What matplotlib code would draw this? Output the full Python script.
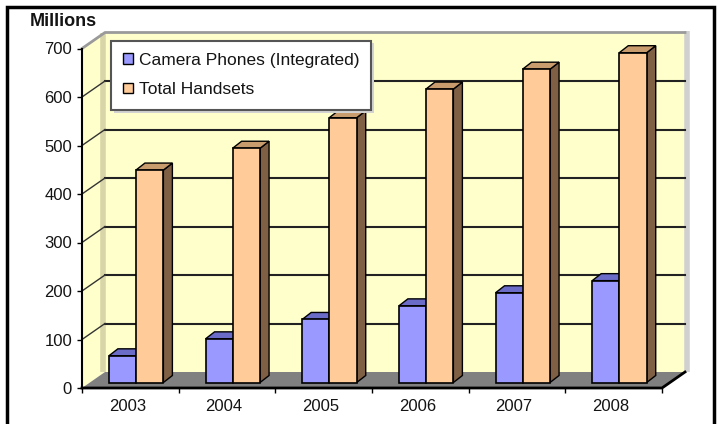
import matplotlib.pyplot as plt
from matplotlib.patches import Polygon, Patch, Rectangle

years = ['2003', '2004', '2005', '2006', '2007', '2008']
camera_phones = [55, 90, 130, 158, 185, 210]
total_handsets = [438, 483, 546, 605, 646, 680]
series_names = ['Camera Phones (Integrated)', 'Total Handsets']
y_ticks = [0, 100, 200, 300, 400, 500, 600, 700]

plt.rcParams['font.family'] = ['Liberation Sans', 'DejaVu Sans']
TXT = '#141414'

W, H = 718, 424
fig = plt.figure(figsize=(W / 100, H / 100), dpi=100)
# front plane of the 3d box, in pixels: x 82..662, y 388..48.5
ax = fig.add_axes([82 / W, (H - 388) / H, 580 / W, 339.5 / H])
n = len(years)
ymax = y_ticks[-1]
ax.set_xlim(0, n)
ax.set_ylim(0, ymax)

# depth of the box and of the bars, in data units
px_x = n / 580
px_y = ymax / 339.5
dx, dy = 23 * px_x, 16 * px_y
bdx, bdy = 9 * px_x, 7 * px_y
base = 5.5 * px_y


def poly(pts, fc, ec='none', lw=0, z=1):
    ax.add_patch(Polygon(pts, closed=True, facecolor=fc, edgecolor=ec,
                         linewidth=lw, zorder=z, clip_on=False,
                         joinstyle='miter'))


# walls
wall = '#FFFFCC'
poly([(dx, dy), (n + dx, dy), (n + dx, ymax + dy), (dx, ymax + dy)], wall, z=1)
poly([(0, 0), (dx, dy), (dx, ymax + dy), (0, ymax)], wall, z=1)
ax.plot([dx - 2 * px_x] * 2, [dy, ymax + dy], color='#D8D5A8', lw=4,
        zorder=1.5, clip_on=False, solid_capstyle='butt')
ax.plot([n + dx + 2.5 * px_x] * 2, [dy, ymax + dy + 2 * px_y], color='#D0D0D0',
        lw=4, zorder=1.5, clip_on=False, solid_capstyle='butt')
ax.plot([0, dx, n + dx], [ymax, ymax + dy, ymax + dy], color='#9A9A9A', lw=2,
        zorder=2, clip_on=False)

# gridlines
for v in y_ticks[1:-1]:
    ax.plot([dx, n + dx], [v + dy, v + dy], color='#222222', lw=1.5, zorder=2,
            clip_on=False)
    ax.plot([0, dx], [v, v + dy], color='#333333', lw=1, zorder=2, clip_on=False)

# floor
poly([(0, 0), (n, 0), (n + dx, dy), (dx, dy)], '#808080', z=3)
ax.plot([0, n, n + dx], [0, 0, dy], color='black', lw=2, zorder=3.5,
        clip_on=False)

# bars
cam_fc, cam_top = '#9999FF', '#6B6BC8'
tot_fc, tot_top, tot_side = '#FFCC99', '#C99C6E', '#7F6045'
offs = [0.278, 0.558, 0.842]
z = 4
for i in range(n):
    x0, x1, x2 = i + offs[0], i + offs[1], i + offs[2]
    t1 = base + camera_phones[i]
    t2 = base + total_handsets[i]
    poly([(x0, t1), (x0 + bdx, t1 + bdy), (x1 + bdx, t1 + bdy), (x1, t1)],
         cam_top, 'black', 1, z)
    poly([(x1, base), (x1 + bdx, base + bdy), (x1 + bdx, t1 + bdy), (x1, t1)],
         '#5050A0', 'black', 1, z)
    poly([(x0, base), (x1, base), (x1, t1), (x0, t1)], cam_fc, 'black', 1.2, z + 0.1)
    poly([(x2, base), (x2 + bdx, base + bdy), (x2 + bdx, t2 + bdy), (x2, t2)],
         tot_side, 'black', 1, z + 0.2)
    poly([(x1, t2), (x1 + bdx, t2 + bdy), (x2 + bdx, t2 + bdy), (x2, t2)],
         tot_top, 'black', 1, z + 0.2)
    poly([(x1, base), (x2, base), (x2, t2), (x1, t2)], tot_fc, 'black', 1.2, z + 0.3)

# axes and ticks
for s in ['top', 'right', 'bottom']:
    ax.spines[s].set_visible(False)
ax.spines['left'].set_color('black')
ax.spines['left'].set_linewidth(1.5)
ax.spines['left'].set_zorder(6)
ax.set_yticks(y_ticks)
ax.set_yticklabels([str(v) for v in y_ticks])
ax.tick_params(axis='y', length=3.6, width=1, color='black', pad=3.6,
               labelsize=12, labelcolor=TXT)
ax.set_xticks([i + 0.47 for i in range(n)])
ax.set_xticklabels(years)
ax.set_xticks(range(n + 1), minor=True)
ax.tick_params(axis='x', which='major', length=0, pad=8, labelsize=12,
               labelcolor=TXT)
ax.tick_params(axis='x', which='minor', length=3.6, width=1, color='black')
ax.patch.set_visible(False)

# legend with a light drop shadow
fig.patches.append(Rectangle((114 / W, 1 - 113 / H), 260 / W, 70 / H,
                             transform=fig.transFigure, facecolor='#D2D2D2',
                             edgecolor='none', zorder=9))
handles = [Patch(facecolor=cam_fc, edgecolor='black', lw=1),
           Patch(facecolor=tot_fc, edgecolor='black', lw=1)]
leg = fig.legend(handles, series_names, loc='upper left',
                 bbox_to_anchor=(111 / W, 1 - 40.5 / H), frameon=True,
                 fancybox=False, shadow=False, fontsize=12.5, labelcolor=TXT,
                 handlelength=0.55, handleheight=0.55, handletextpad=0.35,
                 labelspacing=0.85, borderpad=0.7, borderaxespad=0,
                 framealpha=1, facecolor='white')
leg.get_frame().set_edgecolor('#555555')
leg.get_frame().set_linewidth(1.5)
leg.set_zorder(10)

fig.text(30 / W, 1 - 22 / H, 'Millions', fontsize=13, fontweight='bold',
         color=TXT, va='center', ha='left')

fig.patches.append(Rectangle((7 / W, -0.05), (714 - 7) / W, 1 - 7 / H + 0.05,
                             transform=fig.transFigure, fill=False,
                             edgecolor='black', lw=2.5, zorder=20))

fig.savefig('out.png', dpi=100)
